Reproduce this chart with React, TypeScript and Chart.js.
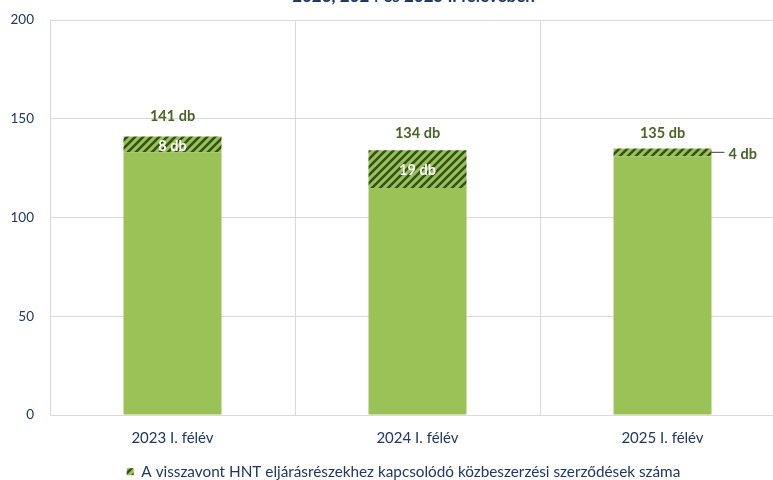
import React, { useEffect, useRef } from "react";
import { Chart, registerables } from "chart.js";

Chart.register(...registerables);

const categories = ["2023 I. félév", "2024 I. félév", "2025 I. félév"];
const baseValues = [133, 115, 131];
const withdrawnValues = [8, 19, 4];
const yTicks = [0, 50, 100, 150, 200];
const legendLabel = "A visszavont HNT eljárásrészekhez kapcsolódó közbeszerzési szerződések száma";
const titleText = "2023, 2024 és 2025 I. félévében";

const GREEN = "#9BC257";
const STRIPE = "#34501C";
const LABEL_GREEN = "#4A6328";
const NAVY = "#1F3864";
const GRID = "#D9D9D9";
const FONT = "Lato, 'Open Sans', sans-serif";

function makePattern(): CanvasPattern | string {
  const c = document.createElement("canvas");
  c.width = 8;
  c.height = 8;
  const ctx = c.getContext("2d");
  if (!ctx) return GREEN;
  ctx.fillStyle = GREEN;
  ctx.fillRect(0, 0, 8, 8);
  ctx.strokeStyle = STRIPE;
  ctx.lineWidth = 2.6;
  ctx.beginPath();
  ctx.moveTo(-2, 10);
  ctx.lineTo(10, -2);
  ctx.moveTo(-6, 6);
  ctx.lineTo(6, -6);
  ctx.moveTo(2, 14);
  ctx.lineTo(14, 2);
  ctx.stroke();
  const p = ctx.createPattern(c, "repeat");
  return p || GREEN;
}

const legendShiftPlugin = {
  id: "legendShift",
  afterLayout(chart: any, _args: any, opts: any) {
    const lg = chart.legend;
    if (!lg) return;
    const dx = opts.dx || 0;
    lg.left += dx;
    lg.right += dx;
    if (lg.legendHitBoxes) lg.legendHitBoxes.forEach((h: any) => (h.left += dx));
  },
};

const labelPlugin = {
  id: "barLabels",
  afterDatasetsDraw(chart: any, _args: any, opts: any) {
    const ctx = chart.ctx as CanvasRenderingContext2D;
    const meta = chart.getDatasetMeta(1);
    const offsets: number[] = opts.totalOffsets || [];
    ctx.save();
    ctx.font = `bold 14.5px ${FONT}`;
    meta.data.forEach((el: any, i: number) => {
      const { x, y, base, width } = el.getProps(["x", "y", "base", "width"], true);
      const total = baseValues[i] + withdrawnValues[i];
      ctx.fillStyle = LABEL_GREEN;
      ctx.textAlign = "center";
      ctx.textBaseline = "middle";
      ctx.fillText(`${total} db`, x, y - (offsets[i] ?? 17));
      const mid = (y + base) / 2;
      if (withdrawnValues[i] >= 8) {
        ctx.fillStyle = "#FFFFFF";
        ctx.fillText(`${withdrawnValues[i]} db`, x, mid + 1.5);
      } else {
        const right = x + width / 2;
        ctx.strokeStyle = "#404040";
        ctx.lineWidth = 1;
        ctx.beginPath();
        ctx.moveTo(right, mid);
        ctx.lineTo(right + 13, mid);
        ctx.stroke();
        ctx.fillStyle = LABEL_GREEN;
        ctx.textAlign = "left";
        ctx.fillText(`${withdrawnValues[i]} db`, right + 17, mid + 2);
      }
    });
    const ca = chart.chartArea;
    ctx.font = `bold 17px ${FONT}`;
    ctx.fillStyle = NAVY;
    ctx.textAlign = "center";
    ctx.textBaseline = "alphabetic";
    ctx.fillText(titleText, (ca.left + ca.right) / 2 - 4, 2);
    ctx.restore();
  },
};

export default function App() {
  const ref = useRef<HTMLCanvasElement | null>(null);
  useEffect(() => {
    document.body.style.margin = "0";
    document.body.style.overflow = "hidden";
    if (!ref.current) return;
    const pattern = makePattern();
    const chart = new Chart(ref.current, {
      type: "bar",
      data: {
        labels: categories,
        datasets: [
          {
            label: "base",
            data: baseValues,
            backgroundColor: GREEN,
            borderWidth: 0,
            barPercentage: 0.4,
            categoryPercentage: 1,
          },
          {
            label: legendLabel,
            data: withdrawnValues,
            backgroundColor: pattern as any,
            borderWidth: 0,
            barPercentage: 0.4,
            categoryPercentage: 1,
          },
        ],
      },
      options: {
        animation: false,
        responsive: false,
        maintainAspectRatio: false,
        layout: { autoPadding: false, padding: { top: 20, right: 15, left: 0, bottom: 0 } },
        plugins: {
          title: { display: false },
          tooltip: { enabled: false },
          barLabels: { totalOffsets: [20, 17, 15] },
          legendShift: { dx: 11 },
          legend: {
            display: true,
            position: "bottom",
            maxHeight: 20,
            labels: {
              filter: (item: any) => item.datasetIndex === 1,
              boxWidth: 7,
              boxHeight: 7,
              padding: 4,
              color: NAVY,
              font: { family: FONT, size: 15.3 },
            },
          },
        } as any,
        scales: {
          x: {
            stacked: true,
            grid: { color: GRID, drawTicks: false, offset: true, lineWidth: 1 },
            border: { color: GRID },
            ticks: { color: NAVY, padding: 14, font: { family: FONT, size: 15 } },
            afterFit: (s: any) => {
              s.height = 45;
              s.paddingLeft = 0;
              s.paddingRight = 0;
            },
          },
          y: {
            stacked: true,
            min: 0,
            max: 200,
            afterBuildTicks: (s: any) => {
              s.ticks = yTicks.map((v) => ({ value: v }));
            },
            grid: { color: GRID, drawTicks: false, lineWidth: 1 },
            border: { color: GRID },
            ticks: { color: NAVY, padding: 16, font: { family: FONT, size: 13.5 } },
            afterFit: (s: any) => {
              s.width = 50;
              s.paddingTop = 0;
              s.paddingBottom = 0;
            },
          },
        },
      },
      plugins: [legendShiftPlugin, labelPlugin],
    });
    return () => chart.destroy();
  }, []);
  return (
    <div style={{ position: "fixed", left: 0, top: 0, width: 800, height: 480 }}>
      <canvas ref={ref} width={800} height={480} style={{ width: 800, height: 480 }} />
    </div>
  );
}
